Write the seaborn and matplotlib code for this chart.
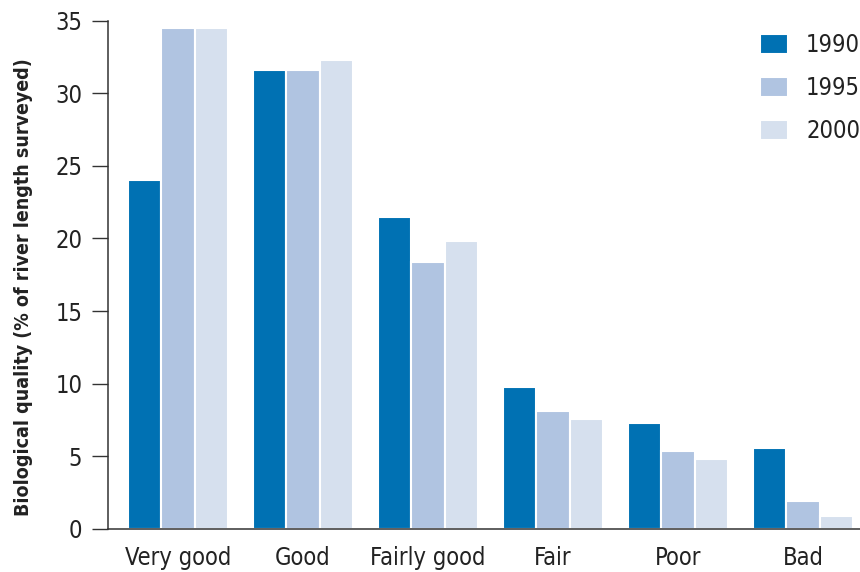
import pandas as pd
import matplotlib
matplotlib.use("Agg")
import matplotlib.pyplot as plt
import seaborn as sns

# ---- data ----
categories = ["Very good", "Good", "Fairly good", "Fair", "Poor", "Bad"]
years = ["1990", "1995", "2000"]
values_1990 = [24.0, 31.6, 21.5, 9.8, 7.3, 5.6]
values_1995 = [34.5, 31.6, 18.4, 8.1, 5.4, 1.9]
values_2000 = [34.5, 32.3, 19.8, 7.6, 4.8, 0.9]
colors = ["#0071b3", "#b0c4e1", "#d6e0ee"]

df = pd.DataFrame({
    "category": categories * 3,
    "year": [y for y in years for _ in categories],
    "value": values_1990 + values_1995 + values_2000,
})

sns.set_theme(style="white")
plt.rcParams["font.family"] = ["DejaVu Sans"]
plt.rcParams["font.stretch"] = "condensed"
text_color = "#222222"

fig = plt.figure(figsize=(8.6, 5.72), dpi=100)
ax = fig.add_axes([108 / 860, 43 / 572, 752 / 860, 508.5 / 572])

sns.barplot(data=df, x="category", y="value", hue="year", order=categories,
            hue_order=years, palette=colors, width=0.8, edgecolor="white",
            linewidth=1.5, saturation=1, ax=ax)

ax.set_xlim(-0.56, 5.456)
ax.set_ylim(0, 35)
ax.set_yticks(range(0, 36, 5))
ax.set_xlabel("")
ax.set_ylabel("Biological quality (% of river length surveyed)",
              fontsize=14, fontweight="bold", color=text_color)
ax.yaxis.set_label_coords(-0.1, 0.476)

for side in ["top", "right"]:
    ax.spines[side].set_visible(False)
for side in ["left", "bottom"]:
    ax.spines[side].set_color("#333333")
    ax.spines[side].set_linewidth(1.1)

ax.tick_params(axis="y", length=11.5, width=1.0, color="#333333", pad=7,
               labelsize=17, labelcolor=text_color, left=True)
ax.tick_params(axis="x", length=0, pad=12, labelsize=17, labelcolor=text_color)

ax.legend(loc="upper right", bbox_to_anchor=(1.0, 0.975), frameon=False,
          fontsize=17, handlelength=1.2, handleheight=0.95, labelspacing=0.8,
          handletextpad=0.75, borderaxespad=0, borderpad=0, labelcolor=text_color)

fig.savefig("out.png", dpi=100)
